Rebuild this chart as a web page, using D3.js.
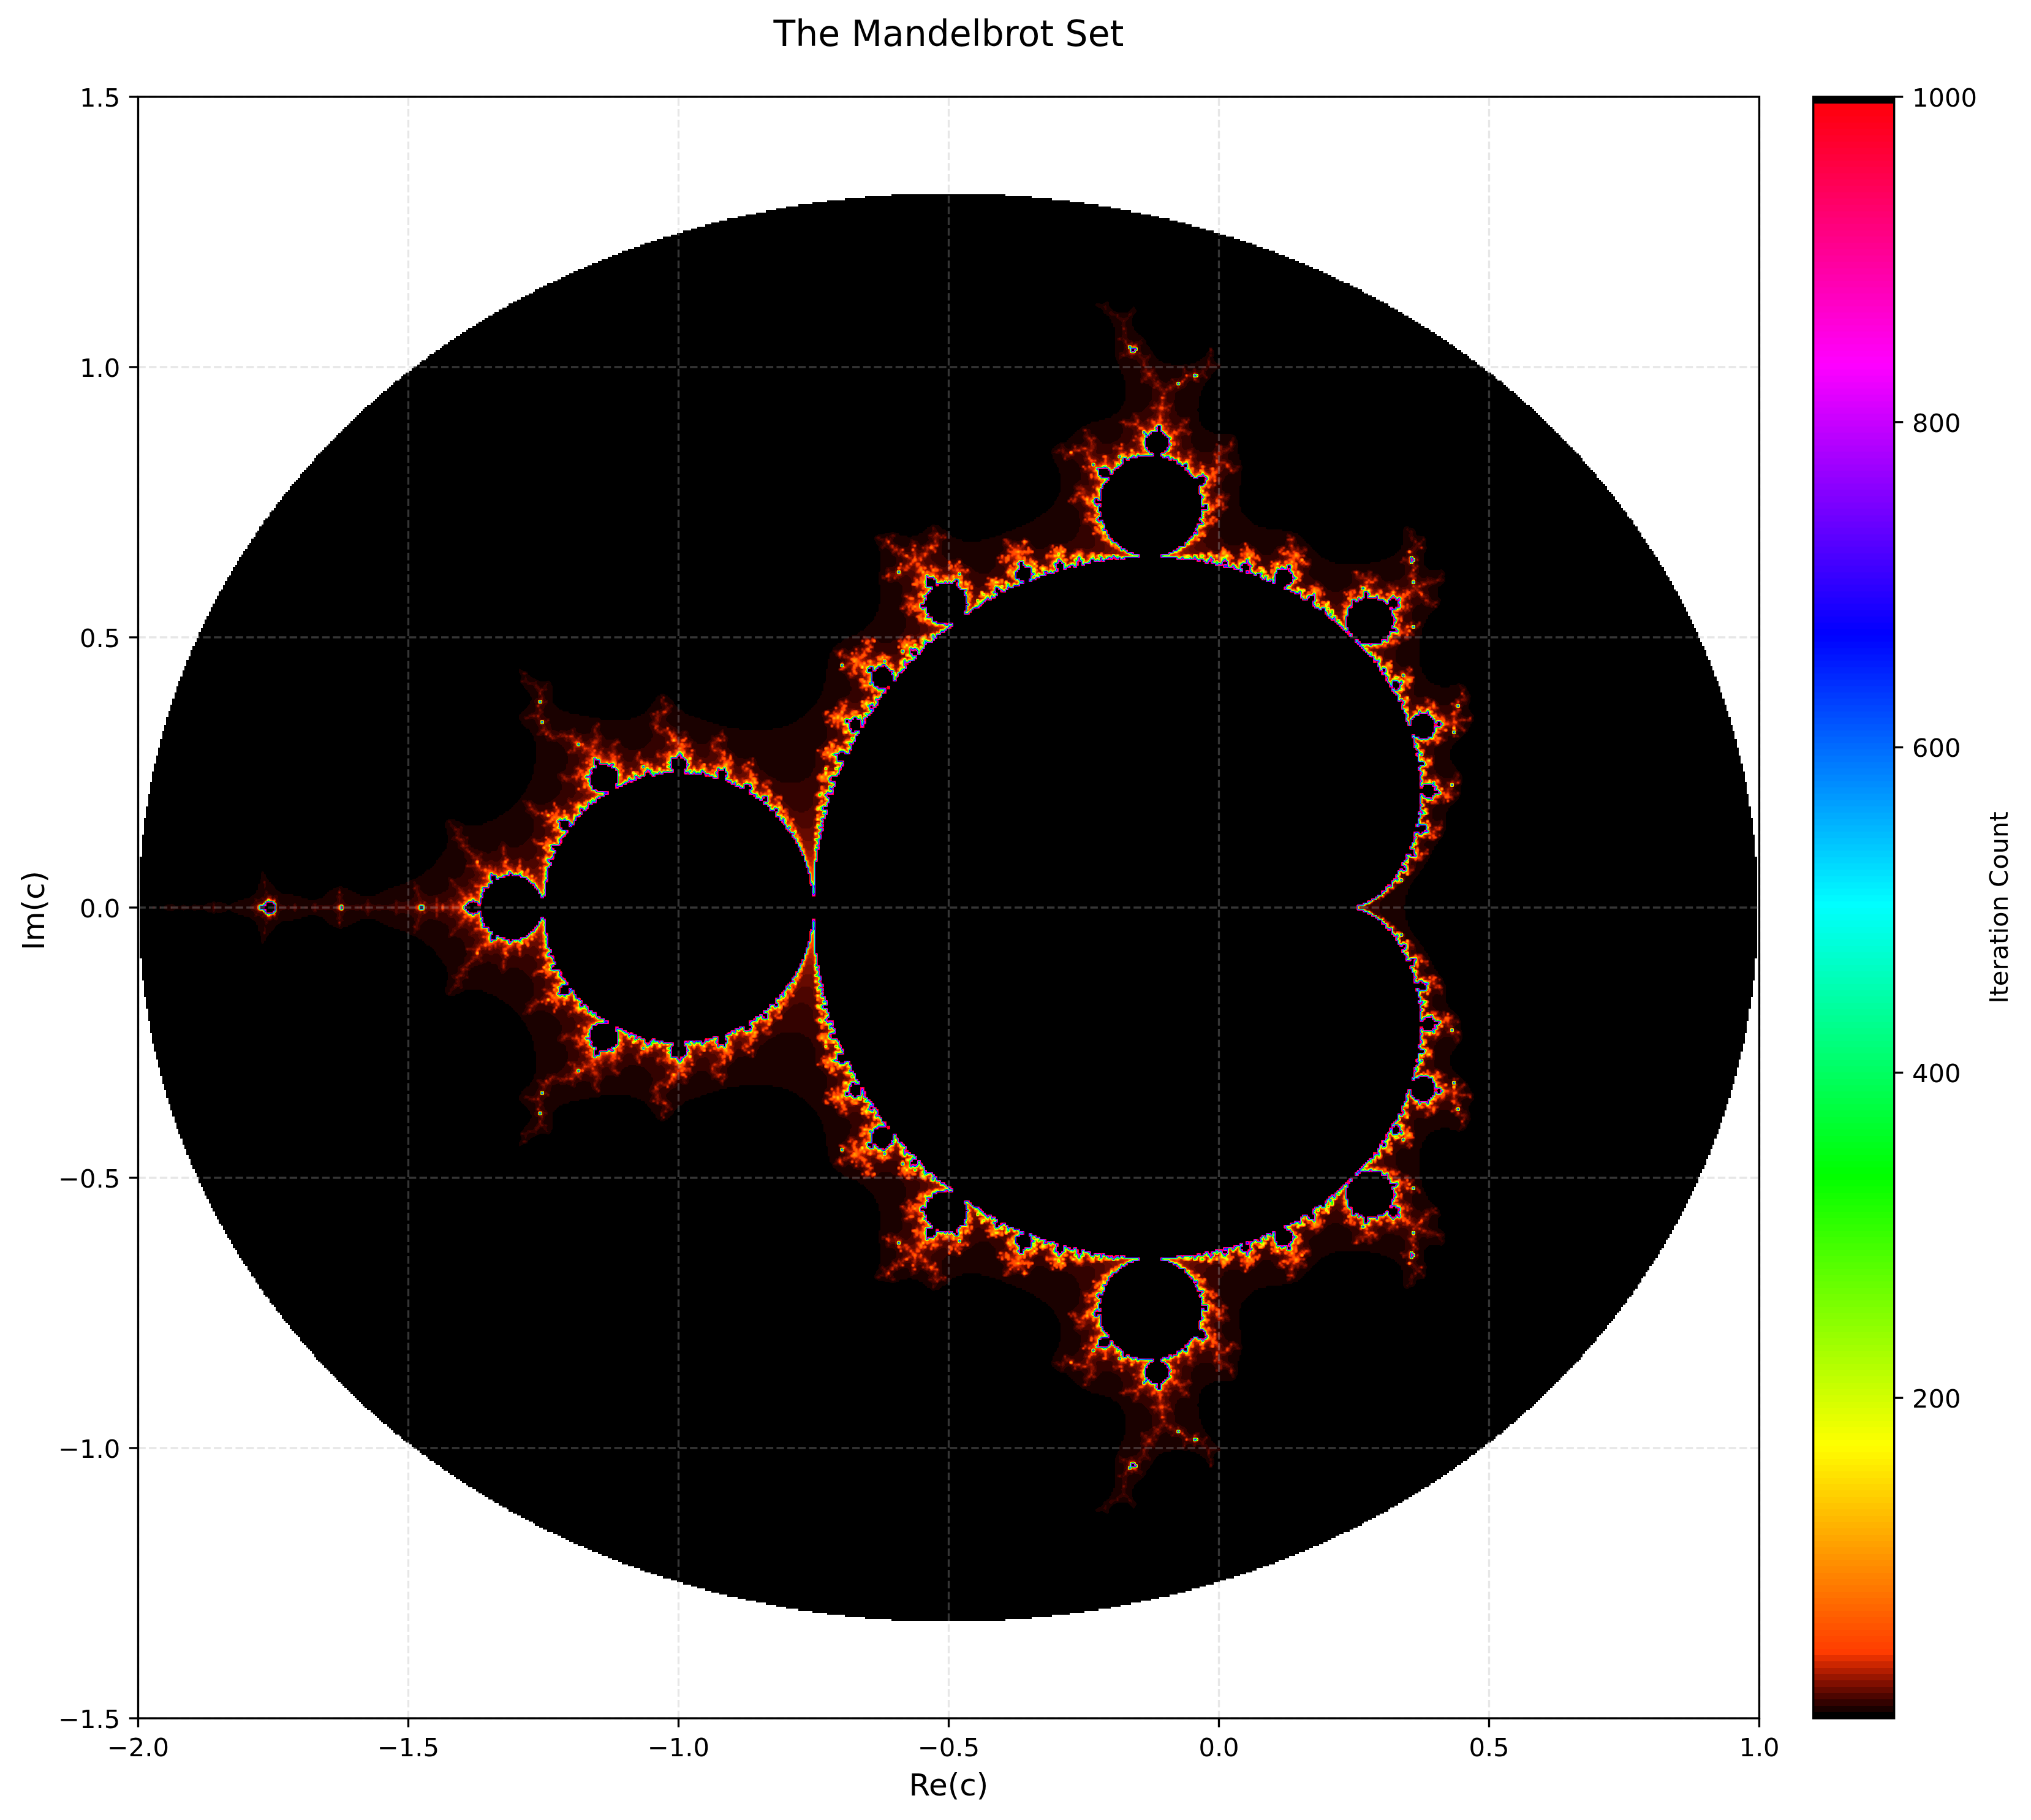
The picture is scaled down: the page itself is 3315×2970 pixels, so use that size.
<!DOCTYPE html>
<html lang="en">
<head>
    <meta charset="UTF-8">
    <title>The Mandelbrot Set</title>
    <script src="https://cdn.jsdelivr.net/npm/d3@7"></script>
    <style>
        body { margin: 0; background: #fff; }
        #chart { position: relative; width: 3315px; height: 2970px; }
        canvas, svg { position: absolute; left: 0; top: 0; }
        text { font-family: "DejaVu Sans"; fill: #000; }
    </style>
</head>
<body>
    <div id="chart"></div>
    <script>
        const xDomain = [-2, 1],
            yDomain = [-1.5, 1.5],
            xTicks = [-2, -1.5, -1, -0.5, 0, 0.5, 1],
            yTicks = [-1.5, -1, -0.5, 0, 0.5, 1, 1.5],
            barTicks = [200, 400, 600, 800, 1000],
            gridSize = 800,
            maxIter = 1000,
            whiteBelow = 3,
            barMin = 3,
            colorMin = 5,
            levels = 256,
            darkLevels = 10;

        const width = 3315,
            height = 2970,
            left = 225.5,
            right = 2871.5,
            top_ = 158,
            bottom = 2804,
            barLeft = 2959.7,
            barRight = 3091.7,
            lw = 3.33,
            tickLen = 14.6;

        const x = d3.scaleLinear().domain(xDomain).range([left, right]);
        const y = d3.scaleLinear().domain(yDomain).range([bottom, top_]);
        const barY = d3.scaleLinear().domain([barMin, maxIter]).range([bottom, top_]);

        // hue wheel, first levels fade up from black, last level is black
        const palette = d3.range(levels).map(function(i){
            if (i === levels - 1) return d3.rgb(0, 0, 0);
            const c = d3.rgb(d3.hsl(i / levels * 360, 1, 0.5));
            const k = i < darkLevels ? i / darkLevels : 1;
            return d3.rgb(c.r * k, c.g * k, c.b * k);
        });
        const level = d3.scaleQuantize().domain([colorMin, maxIter]).range(d3.range(levels));

        // the field itself: escape count for each cell of the complex plane
        function escapeCount(cr, ci){
            let zr = 0, zi = 0;
            for (let n = 0; n < maxIter; n++) {
                const rr = zr * zr, ii = zi * zi;
                if (rr + ii > 4) return n;
                zi = 2 * zr * zi + ci;
                zr = rr - ii + cr;
            }
            return maxIter;
        }
        const re = d3.scaleLinear().domain([0, gridSize - 1]).range(xDomain);
        const im = d3.scaleLinear().domain([0, gridSize - 1]).range(yDomain);
        const field = new Int32Array(gridSize * gridSize);
        for (let row = 0; row < gridSize; row++) {
            const ci = im(gridSize - 1 - row);
            for (let col = 0; col < gridSize; col++) {
                field[row * gridSize + col] = escapeCount(re(col), ci);
            }
        }

        // image: counts are interpolated between cells first, then coloured
        const chart = d3.select('#chart');
        const imgSize = Math.round(right - left);
        const canvas = chart.append('canvas')
            .attr('width', imgSize).attr('height', imgSize)
            .style('left', Math.floor(left) + 'px').style('top', top_ + 'px');
        const ctx = canvas.node().getContext('2d');
        const img = ctx.createImageData(imgSize, imgSize);
        const cellOf = d3.scaleLinear().domain([0, imgSize]).range([0, gridSize]);
        for (let py = 0; py < imgSize; py++) {
            const v = Math.max(0, Math.min(gridSize - 1, cellOf(py + 0.5) - 0.5));
            const r0 = Math.floor(v), r1 = Math.min(gridSize - 1, r0 + 1), fy = v - r0;
            for (let px = 0; px < imgSize; px++) {
                const u = Math.max(0, Math.min(gridSize - 1, cellOf(px + 0.5) - 0.5));
                const c0 = Math.floor(u), c1 = Math.min(gridSize - 1, c0 + 1), fx = u - c0;
                const near = field[Math.round(v) * gridSize + Math.round(u)];
                if (near < whiteBelow) continue;
                const a = field[r0 * gridSize + c0], b = field[r0 * gridSize + c1],
                    c = field[r1 * gridSize + c0], d = field[r1 * gridSize + c1];
                const n = (a * (1 - fx) + b * fx) * (1 - fy) + (c * (1 - fx) + d * fx) * fy;
                const col = palette[level(n)];
                const p = (py * imgSize + px) * 4;
                img.data[p] = col.r;
                img.data[p + 1] = col.g;
                img.data[p + 2] = col.b;
                img.data[p + 3] = 255;
            }
        }
        ctx.putImageData(img, 0, 0);

        const svg = chart.append('svg').attr('width', width).attr('height', height);

        // grid
        svg.selectAll('.gridX').data(xTicks).enter().append('line').attr('class', 'gridX')
            .attr('x1', d => x(d)).attr('x2', d => x(d))
            .attr('y1', bottom).attr('y2', top_);
        svg.selectAll('.gridY').data(yTicks).enter().append('line').attr('class', 'gridY')
            .attr('x1', left).attr('x2', right)
            .attr('y1', d => y(d)).attr('y2', d => y(d));
        svg.selectAll('.gridX,.gridY')
            .attr('stroke', '#b0b0b0').attr('stroke-opacity', 0.3)
            .attr('stroke-width', lw).attr('stroke-dasharray', '12.33 5.33');

        // colorbar
        svg.append('g').selectAll('rect').data(d3.range(levels)).enter().append('rect')
            .attr('x', barLeft).attr('width', barRight - barLeft)
            .attr('y', d => bottom - (d + 1) * (bottom - top_) / levels)
            .attr('height', (bottom - top_) / levels + 0.5)
            .attr('shape-rendering', 'crispEdges')
            .attr('fill', d => palette[d].formatRgb());

        // axes
        function styleAxis(g){
            g.select('.domain').remove();
            g.selectAll('.tick line').attr('stroke', '#000').attr('stroke-width', lw);
            g.selectAll('.tick text').attr('font-size', 41.67).attr('font-family', 'DejaVu Sans').attr('fill', '#000');
        }
        const fmt = d3.format('.1f');
        svg.append('g').attr('transform', `translate(0,${bottom})`)
            .call(d3.axisBottom(x).tickValues(xTicks).tickFormat(fmt).tickSize(tickLen).tickPadding(tickLen + 3).offset(0))
            .call(styleAxis);
        svg.append('g').attr('transform', `translate(${left},0)`)
            .call(d3.axisLeft(y).tickValues(yTicks).tickFormat(fmt).tickSize(tickLen).tickPadding(tickLen).offset(0))
            .call(styleAxis)
            .selectAll('.tick text').attr('dy', '0.38em');
        svg.append('g').attr('transform', `translate(${barRight},0)`)
            .call(d3.axisRight(barY).tickValues(barTicks).tickFormat(d3.format('d')).tickSize(tickLen).tickPadding(tickLen).offset(0))
            .call(styleAxis)
            .selectAll('.tick text').attr('dy', '0.38em');

        // spines
        svg.append('rect').attr('x', left).attr('y', top_)
            .attr('width', right - left).attr('height', bottom - top_)
            .attr('fill', 'none').attr('stroke', '#000').attr('stroke-width', lw);
        svg.append('rect').attr('x', barLeft).attr('y', top_)
            .attr('width', barRight - barLeft).attr('height', bottom - top_)
            .attr('fill', 'none').attr('stroke', '#000').attr('stroke-width', lw);

        // titles
        svg.append('text').attr('x', (left + right) / 2).attr('y', 75)
            .attr('text-anchor', 'middle').attr('font-size', 58.33).text('The Mandelbrot Set');
        svg.append('text').attr('x', (left + right) / 2).attr('y', 2930)
            .attr('text-anchor', 'middle').attr('font-size', 50).text('Re(c)');
        svg.append('text').attr('transform', `translate(72,${(top_ + bottom) / 2 + 5}) rotate(-90)`)
            .attr('text-anchor', 'middle').attr('font-size', 50).text('Im(c)');
        svg.append('text').attr('transform', `translate(3277,${(top_ + bottom) / 2}) rotate(-90)`)
            .attr('text-anchor', 'middle').attr('font-size', 41.67).text('Iteration Count');
    </script>
</body>
</html>
